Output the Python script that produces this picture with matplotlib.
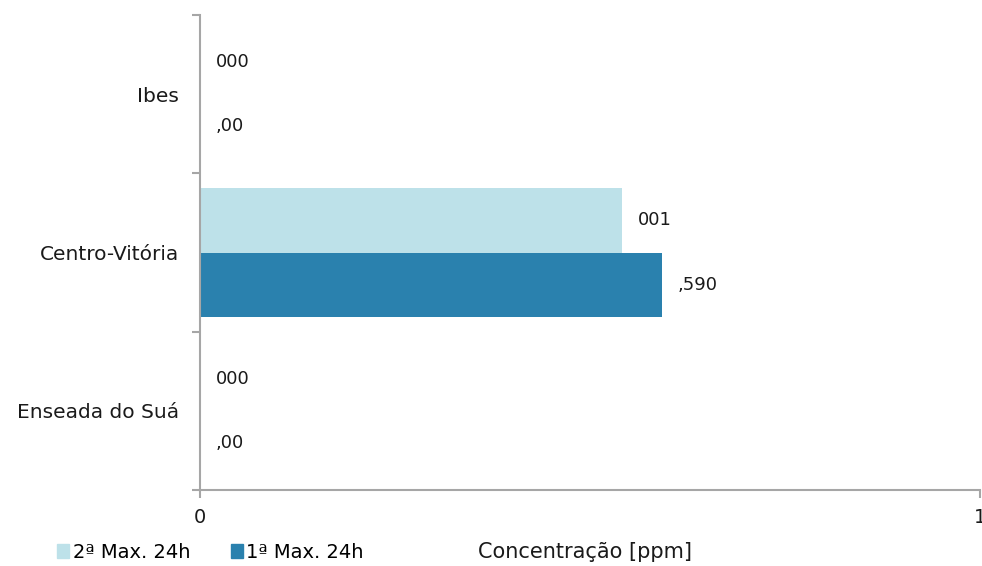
import matplotlib
matplotlib.use("Agg")
import matplotlib.pyplot as plt
from matplotlib.patches import Patch
import numpy as np

categories = ["Ibes", "Centro-Vitória", "Enseada do Suá"]
series_names = ["2ª Max. 24h", "1ª Max. 24h"]
max2_values = [0.0, 0.541, 0.0]
max1_values = [0.0, 0.592, 0.0]
max2_labels = ["000", "001", "000"]
max1_labels = [",00", ",590", ",00"]
xtick_values = [0, 1]
xtick_labels = ["0", "1"]

plt.rcParams['font.family'] = ['DejaVu Sans']

fig = plt.figure(figsize=(9.82, 5.66), dpi=100)
ax = fig.add_axes([200/982, 76/566, 780/982, 475/566])

light = "#BDE1E9"
dark = "#2A81AE"
axcol = "#A6A6A6"
txt = "#1a1a1a"

y = np.arange(len(categories))
h = 0.405
ax.barh(y - h/2, max2_values, height=h, color=light, label=series_names[0])
ax.barh(y + h/2, max1_values, height=h, color=dark, label=series_names[1])

off = 0.02
for i in range(len(categories)):
    ax.text(max2_values[i] + off, y[i] - h/2, max2_labels[i], va='center', ha='left',
            fontsize=13, color=txt)
    ax.text(max1_values[i] + off, y[i] + h/2, max1_labels[i], va='center', ha='left',
            fontsize=13, color=txt)

ax.set_xlim(0, 1)
ax.set_ylim(2.5, -0.5)

ax.set_yticks([-0.5, 0.5, 1.5, 2.5])
ax.set_yticklabels([])
ax.set_yticks(y, minor=True)
ax.set_yticklabels(categories, minor=True, fontsize=14.5, color=txt)
ax.tick_params(axis='y', which='minor', length=0, pad=15)
ax.tick_params(axis='y', which='major', length=6, width=1.5, color=axcol)

ax.set_xticks(xtick_values)
ax.set_xticklabels(xtick_labels, fontsize=14, color=txt)
ax.tick_params(axis='x', which='major', length=6, width=1.5, color=axcol, pad=7)

for s in ['top', 'right']:
    ax.spines[s].set_visible(False)
for s in ['left', 'bottom']:
    ax.spines[s].set_color(axcol)
    ax.spines[s].set_linewidth(1.5)

fig.text(585/982, 1 - 552/566, "Concentração [ppm]", ha='center', va='center',
         fontsize=15, color=txt)

handles = [Patch(color=light), Patch(color=dark)]
fig.legend(handles, series_names, loc='center left', bbox_to_anchor=(57/982, 1 - 552/566),
           ncol=2, frameon=False, fontsize=14, handlelength=0.6, handleheight=0.7,
           handletextpad=0.2, columnspacing=2.1, borderaxespad=0, borderpad=0)

fig.savefig("out.png", dpi=100)
